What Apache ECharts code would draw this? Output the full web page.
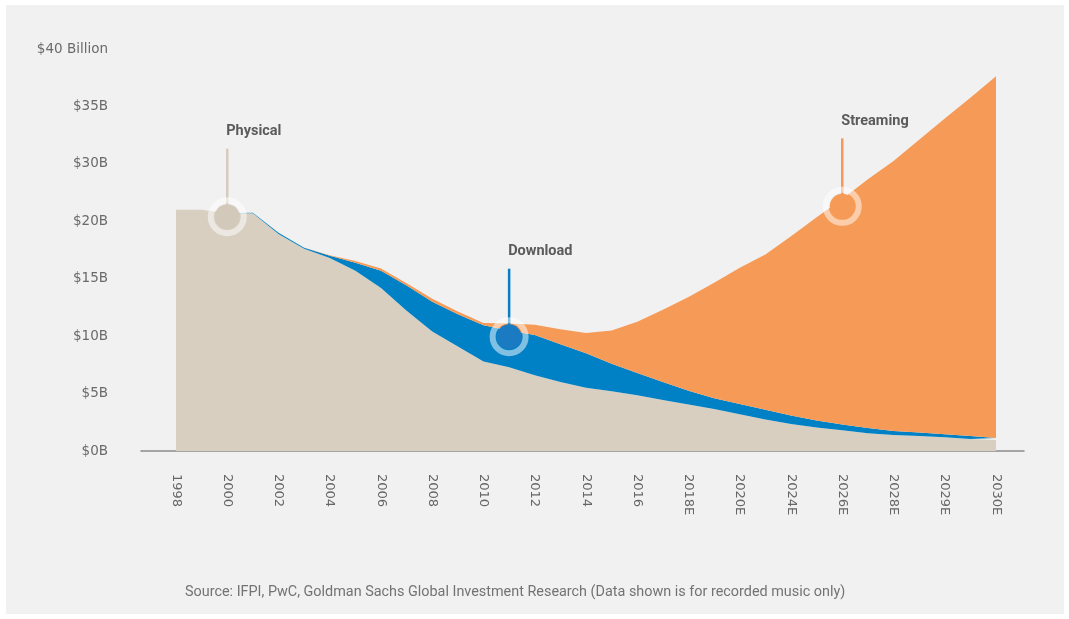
<!DOCTYPE html>
<html>
<head>
<meta charset="utf-8">
<script src="https://cdn.jsdelivr.net/npm/echarts@6/dist/echarts.min.js"></script>
<style>
  html, body { margin: 0; padding: 0; background: #ffffff; }
  #chart { width: 1069px; height: 619px; }
</style>
</head>
<body>
<div id="chart"></div>
<script>
// Years on the x axis; every other one carries a tick label
const categories = [
  '1998', '1999', '2000', '2001', '2002', '2003', '2004', '2005', '2006', '2007',
  '2008', '2009', '2010', '2011', '2012', '2013', '2014', '2015', '2016', '2017',
  '2018E', '2019E', '2020E', '2022E', '2024E', '2025E', '2026E', '2027E', '2028E', '',
  '2029E', '', '2030E'
];

// Recorded music revenue by format, $ billions
const physical = [
  21.0, 21.0, 20.7, 20.7, 18.9, 17.6, 16.8, 15.7, 14.2, 12.2,
  10.4, 9.1, 7.8, 7.3, 6.6, 6.0, 5.5, 5.2, 4.85, 4.45,
  4.05, 3.65, 3.2, 2.75, 2.35, 2.05, 1.8, 1.55, 1.4, 1.3,
  1.2, 1.05, 0.96
];
const download = [
  0, 0, 0, 0.05, 0.1, 0.1, 0.2, 0.7, 1.5, 2.2,
  2.6, 2.8, 3.15, 3.2, 3.5, 3.3, 3.0, 2.4, 1.95, 1.55,
  1.2, 0.95, 0.9, 0.85, 0.75, 0.6, 0.5, 0.45, 0.35, 0.3,
  0.25, 0.25, 0.17
];
const streaming = [
  0, 0, 0, 0, 0, 0, 0.05, 0.15, 0.2, 0.2,
  0.25, 0.25, 0.2, 0.6, 0.9, 1.3, 1.77, 2.9, 4.45, 6.3,
  8.15, 10.05, 11.85, 13.5, 15.6, 17.7, 19.65, 21.65, 23.5, 25.5,
  27.5, 29.45, 31.5
];

// Y axis tick labels, one per 5-unit step
const yTickLabels = ['$0B', '$5B', '$10B', '$15B', '$20B', '$30B', '$35B', '$40 Billion'];

// Callouts naming each format: label, year, value where the marker sits
const calloutNames = ['Physical', 'Download', 'Streaming'];
const calloutYears = ['2000', '2011', '2026E'];
const calloutValues = [20.4, 9.95, 21.3];

const colors = {
  physical: '#d8cfc1',
  download: '#0080c5',
  streaming: '#f69b57'
};
const calloutFill = ['#d3c9ba', '#1a7bc3', '#f69b57'];
const calloutStem = ['#d6ccbd', '#0a7cc4', '#f6985a'];

const tickFont = '"DejaVu Sans", sans-serif';

const chart = echarts.init(document.getElementById('chart'), null, { renderer: 'canvas' });

const areaSeries = (name, data, color) => ({
  name,
  type: 'line',
  stack: 'revenue',
  data,
  symbol: 'none',
  smooth: false,
  lineStyle: { width: 0 },
  areaStyle: { color, opacity: 1 },
  itemStyle: { color },
  xAxisIndex: 0,
  yAxisIndex: 0,
  z: 2
});

const option = {
  backgroundColor: '#ffffff',
  animation: false,
  textStyle: { fontFamily: 'Roboto, "Liberation Sans", sans-serif' },
  graphic: [{
    type: 'rect',
    left: 6, top: 5,
    shape: { width: 1058, height: 609 },
    style: { fill: '#f1f1f1' },
    z: -10
  }],
  title: {
    text: 'Source: IFPI, PwC, Goldman Sachs Global Investment Research (Data shown is for recorded music only)',
    left: 185,
    top: 585,
    padding: 0,
    textStyle: { fontSize: 14.4, fontWeight: 'normal', color: '#737373', fontFamily: 'Roboto, sans-serif' }
  },
  grid: [
    { left: 176, right: 73, top: 49, bottom: 168, containLabel: false },
    { left: 141, right: 45, top: 49, bottom: 168, containLabel: false }
  ],
  xAxis: [{
    type: 'category',
    gridIndex: 0,
    data: categories,
    boundaryGap: false,
    axisLine: { show: false },
    axisTick: { show: false },
    splitLine: { show: false },
    axisLabel: {
      interval: 1,
      rotate: -90,
      margin: 23,
      fontSize: 13,
      color: '#666666',
      fontFamily: tickFont
    }
  }, {
    type: 'value',
    gridIndex: 1,
    min: 0, max: 1,
    axisLine: { show: true, lineStyle: { color: '#8a8a8a', width: 1.5 } },
    axisTick: { show: false },
    axisLabel: { show: false },
    splitLine: { show: false }
  }],
  yAxis: [{
    type: 'value',
    gridIndex: 0,
    min: 0,
    max: 35,
    interval: 5,
    axisLine: { show: false },
    axisTick: { show: false },
    splitLine: { show: false },
    axisLabel: {
      margin: 68,
      fontSize: 13.5,
      color: '#6a6a6a',
      fontFamily: tickFont,
      formatter: (v) => yTickLabels[Math.round(v / 5)]
    }
  }, {
    type: 'value',
    gridIndex: 1,
    min: 0, max: 1,
    show: false
  }],
  series: [
    areaSeries('Physical', physical, colors.physical),
    areaSeries('Download', download, colors.download),
    areaSeries('Streaming', streaming, colors.streaming),
    {
      // Callout markers: stem, ringed dot and bold label per format
      type: 'custom',
      xAxisIndex: 0,
      yAxisIndex: 0,
      z: 10,
      data: calloutNames.map((n, i) => [categories.indexOf(calloutYears[i]), calloutValues[i], i]),
      renderItem: (params, api) => {
        const i = api.value(2);
        const p = api.coord([api.value(0), api.value(1)]);
        const cx = p[0], cy = p[1];
        return {
          type: 'group',
          children: [
            {
              type: 'line',
              shape: { x1: cx, y1: cy - 68, x2: cx, y2: cy - 12 },
              style: { stroke: calloutStem[i], lineWidth: 2.5 }
            },
            {
              type: 'circle',
              shape: { cx, cy, r: 16.5 },
              style: { fill: 'none', stroke: 'rgba(255,255,255,0.5)', lineWidth: 6 }
            },
            {
              type: 'circle',
              shape: { cx, cy, r: 12.5 },
              style: { fill: calloutFill[i] }
            },
            {
              type: 'text',
              x: cx - 1,
              y: cy - 85,
              style: {
                text: calloutNames[i],
                fill: '#5b5b5b',
                font: 'bold 14.5px Roboto, "Liberation Sans", sans-serif',
                align: 'left',
                verticalAlign: 'middle'
              }
            }
          ]
        };
      }
    }
  ]
};

chart.setOption(option);
</script>
</body>
</html>
